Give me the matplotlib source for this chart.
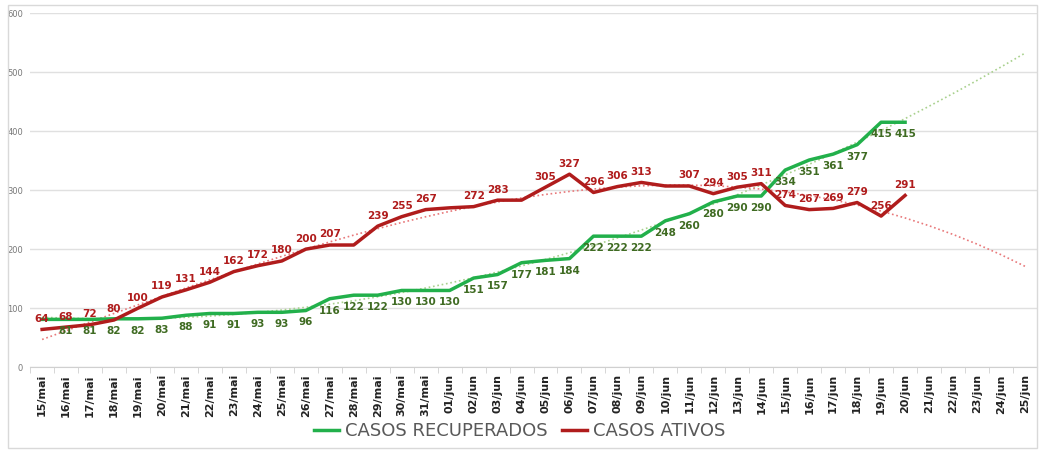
import matplotlib
matplotlib.use('Agg')
import matplotlib.pyplot as plt
import numpy as np

# datas do eixo x
datas = ['%02d/mai' % d for d in range(15, 32)] + ['%02d/jun' % d for d in range(1, 26)]

recuperados = [81, 81, 81, 82, 82, 83, 88, 91, 91, 93, 93, 96, 116, 122, 122, 130, 130, 130,
               151, 157, 177, 181, 184, 222, 222, 222, 248, 260, 280, 290, 290, 334, 351, 361,
               377, 415, 415]
ativos = [64, 68, 72, 80, 100, 119, 131, 144, 162, 172, 180, 200, 207, 207, 239, 255, 267, 270,
          272, 283, 283, 305, 327, 296, 306, 313, 307, 307, 294, 305, 311, 274, 267, 269,
          279, 256, 291]
# rotulos escondidos no original
sem_rotulo_rec = [0]
sem_rotulo_ati = [13, 17, 20, 26]

verde = '#22b04b'
vermelho = '#b01c1c'

fig = plt.figure(figsize=(10.39, 4.5), dpi=100)
ax = fig.add_axes([0.029, 0.184, 0.969, 0.787])

x_all = np.arange(len(datas))
x_rec = np.arange(len(recuperados))
x_ati = np.arange(len(ativos))

# linhas de tendencia (polinomial)
p_rec = np.polyfit(x_rec, recuperados, 2)
p_ati = np.polyfit(x_ati, ativos, 3)
ax.plot(x_all, np.polyval(p_rec, x_all), ':', color='#a9d18e', lw=1.2, zorder=2)
ax.plot(x_all, np.polyval(p_ati, x_all), ':', color='#e8787a', lw=1.2, zorder=2)

ax.plot(x_rec, recuperados, color=verde, lw=2.5, label='CASOS RECUPERADOS', zorder=3)
ax.plot(x_ati, ativos, color=vermelho, lw=2.5, label='CASOS ATIVOS', zorder=3)

for i, v in enumerate(recuperados):
    if i in sem_rotulo_rec:
        continue
    ax.annotate(str(v), (i, v), xytext=(0, -5), textcoords='offset points', ha='center',
                va='top', fontsize=7.5, fontweight='bold', color='#3f6b22')
for i, v in enumerate(ativos):
    if i in sem_rotulo_ati:
        continue
    ax.annotate(str(v), (i, v), xytext=(0, 4), textcoords='offset points', ha='center',
                va='bottom', fontsize=7.5, fontweight='bold', color='#b01c1c')

ax.set_xlim(-0.5, len(datas) - 0.5)
ax.set_ylim(0, 600)
ax.set_yticks(range(0, 601, 100))
ax.set_xticks(x_all)
ax.set_xticklabels(datas, rotation=90, fontsize=8, fontweight='bold', color='#222222')
ax.tick_params(axis='y', labelsize=6, colors='#777777', length=0, pad=5)
ax.tick_params(axis='x', length=0, pad=5)
ax.set_xticks(np.arange(-0.5, len(datas), 1), minor=True)
ax.tick_params(axis='x', which='minor', length=4, color='#d0d0d0')
ax.grid(axis='y', color='#e0e0e0', lw=1)
ax.set_axisbelow(True)
for s in ['top', 'right', 'left']:
    ax.spines[s].set_visible(False)
ax.spines['bottom'].set_color('#d0d0d0')

fig.legend(loc='lower center', bbox_to_anchor=(0.5, -0.015), ncol=2, frameon=False,
           fontsize=13, handlelength=1.4, handletextpad=0.3, columnspacing=0.8,
           labelcolor='#595959')

# moldura do grafico
fig.patches.append(plt.Rectangle((0.008, 0.004), 0.99, 0.985, transform=fig.transFigure,
                                 fill=False, edgecolor='#d9d9d9', lw=1))

fig.savefig('out.png', dpi=100)
